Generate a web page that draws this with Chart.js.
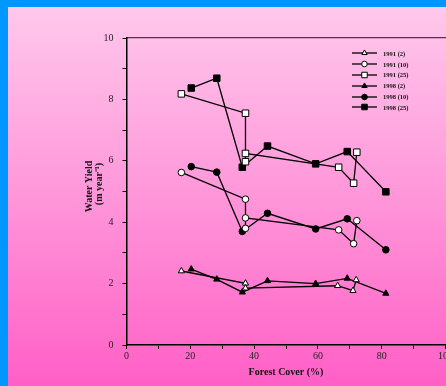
<!DOCTYPE html>
<html>
<head>
<meta charset="utf-8">
<script src="https://cdn.jsdelivr.net/npm/chart.js@4/dist/chart.umd.min.js"></script>
<style>
  html, body { margin: 0; padding: 0; width: 446px; height: 386px; overflow: hidden; }
  body {
    position: relative;
    background: linear-gradient(to bottom, #0096ff 0px, #0096ff 7px, #ffc8ec 7px, #ff98da 190px, #ff5fc6 386px);
  }
  #leftBar { position: absolute; left: 0; top: 0; width: 8px; height: 386px; background: #0096ff; }
  #chartBox { position: absolute; left: 0; top: 0; width: 520px; height: 386px; }
  #legend {
    position: absolute; left: 352px; top: 48px;
    font-family: "Liberation Serif", serif; font-weight: bold; font-size: 6.5px; color: #111;
  }
  .item { height: 10.8px; display: flex; align-items: center; white-space: nowrap; }
  .item canvas { margin-right: 6px; }
</style>
</head>
<body>
<div id="leftBar"></div>
<div id="chartBox"><canvas id="yieldChart" width="520" height="386"></canvas></div>
<div id="legend"></div>
<script>
// --- data ---
const seriesNames = ['1991 (2)', '1991 (10)', '1991 (25)', '1998 (2)', '1998 (10)', '1998 (25)'];

// forest cover (%) per sampled watershed
const cover1991 = [17.2, 37.3, 37.3, 37.3, 66.5, 71.2, 72.2];
const cover1991small = [17.2, 37.3, 37.3, 66.2, 71.0, 72.0];
const cover1998 = [20.3, 28.3, 36.3, 44.2, 59.3, 69.2, 81.3];

// water yield (m / year)
const yield1991_2 = [2.41, 2.01, 1.85, 1.93, 1.77, 2.12];
const yield1991_10 = [5.62, 4.75, 3.80, 4.14, 3.75, 3.30, 4.05];
const yield1991_25 = [8.18, 7.55, 5.97, 6.24, 5.79, 5.27, 6.28];
const yield1998_2 = [2.47, 2.14, 1.72, 2.09, 2.00, 2.17, 1.68];
const yield1998_10 = [5.81, 5.63, 3.70, 4.29, 3.78, 4.11, 3.10];
const yield1998_25 = [8.37, 8.69, 5.79, 6.48, 5.90, 6.30, 4.99];

const xTicks = [0, 20, 40, 60, 80, 100];
const yTicks = [0, 2, 4, 6, 8, 10];

const serif = '"Liberation Serif", "Times New Roman", serif';

function toPoints(xs, ys) {
    return xs.map(function(x, i) { return { x: x, y: ys[i] }; });
}

// marker style for each series
const markerStyles = [
    { pointStyle: 'triangle', radius: 3.6, fill: '#ffffff' },
    { pointStyle: 'circle', radius: 3.3, fill: '#ffffff' },
    { pointStyle: 'rect', radius: 4.6, fill: '#ffffff' },
    { pointStyle: 'triangle', radius: 3.6, fill: '#000000' },
    { pointStyle: 'circle', radius: 3.3, fill: '#000000' },
    { pointStyle: 'rect', radius: 4.6, fill: '#000000' }
];

const seriesData = [
    toPoints(cover1991small, yield1991_2),
    toPoints(cover1991, yield1991_10),
    toPoints(cover1991, yield1991_25),
    toPoints(cover1998, yield1998_2),
    toPoints(cover1998, yield1998_10),
    toPoints(cover1998, yield1998_25)
];

const datasets = seriesNames.map(function(name, i) {
    const m = markerStyles[i];
    return {
        label: name,
        data: seriesData[i],
        showLine: true,
        borderColor: '#000',
        borderWidth: 1.3,
        pointStyle: m.pointStyle,
        pointRadius: m.radius,
        pointHoverRadius: m.radius,
        pointBackgroundColor: m.fill,
        pointBorderColor: '#000',
        pointBorderWidth: 1
    };
});

const chart = new Chart(document.getElementById('yieldChart'), {
    type: 'scatter',
    data: { datasets: datasets },
    options: {
        responsive: false,
        devicePixelRatio: 1,
        animation: false,
        layout: { padding: { left: 0, top: 38, right: 74.5, bottom: 0 } },
        plugins: { legend: { display: false }, tooltip: { enabled: false } },
        scales: {
            x: {
                type: 'linear', position: 'bottom', min: 0, max: 100,
                afterFit: function(s) { s.height = 41; },
                afterBuildTicks: function(s) {
                    s.ticks = [];
                    for (let v = 0; v <= 100; v += 10) s.ticks.push({ value: v });
                },
                ticks: {
                    padding: 1, color: '#222', maxRotation: 0, autoSkip: false,
                    font: { family: serif, size: 10 },
                    callback: function(v) { return xTicks.indexOf(v) >= 0 ? String(v) : ''; }
                },
                grid: { drawOnChartArea: false, drawTicks: true, tickLength: 4, color: '#000' },
                border: { display: true, color: '#000', width: 1.5 },
                title: {
                    display: true, text: 'Forest Cover (%)', color: '#111',
                    font: { family: serif, size: 10, weight: 'bold', lineHeight: 1.2 },
                    padding: { top: 0, bottom: 7.3 }
                }
            },
            xTop: {
                type: 'linear', position: 'top', min: 0, max: 100,
                afterFit: function(s) { s.height = 0; },
                ticks: { display: false },
                grid: { display: false },
                border: { display: true, color: '#4a3c48', width: 1.2 }
            },
            y: {
                type: 'linear', position: 'left', min: 0, max: 10,
                afterFit: function(s) { s.width = 126.5; },
                afterBuildTicks: function(s) {
                    s.ticks = [];
                    for (let v = 0; v <= 10; v += 1) s.ticks.push({ value: v });
                },
                ticks: {
                    padding: 9, color: '#222', autoSkip: false,
                    font: { family: serif, size: 10 },
                    callback: function(v) { return yTicks.indexOf(v) >= 0 ? String(v) : ''; }
                },
                grid: { drawOnChartArea: false, drawTicks: true, tickLength: 4, color: '#000' },
                border: { display: true, color: '#000', width: 1.5 },
                title: {
                    // leading em space nudges the centred title slightly upward, as in the original
                    display: true, text: ['\u2003Water Yield', '\u2003\u2002(m year\u207B\u00B9)'], color: '#111',
                    font: { family: serif, size: 10, weight: 'bold', lineHeight: 1.05 },
                    padding: { top: 84, bottom: 0 }
                }
            }
        }
    }
});

// --- legend with a short line through each marker ---
const legendBox = document.getElementById('legend');
seriesNames.forEach(function(name, i) {
    const m = markerStyles[i];
    const item = document.createElement('div');
    item.className = 'item';
    const c = document.createElement('canvas');
    c.width = 25; c.height = 10;
    const ctx = c.getContext('2d');
    ctx.strokeStyle = '#000';
    ctx.lineWidth = 1.3;
    ctx.beginPath();
    ctx.moveTo(0, 5); ctx.lineTo(25, 5);
    ctx.stroke();
    ctx.fillStyle = m.fill;
    ctx.strokeStyle = '#000';
    ctx.lineWidth = 1;
    Chart.helpers.drawPoint(ctx, { pointStyle: m.pointStyle, radius: m.radius * 0.85, rotation: 0, borderWidth: 1 }, 12.5, 5);
    item.appendChild(c);
    const label = document.createElement('span');
    label.textContent = name;
    item.appendChild(label);
    legendBox.appendChild(item);
});
</script>
</body>
</html>
